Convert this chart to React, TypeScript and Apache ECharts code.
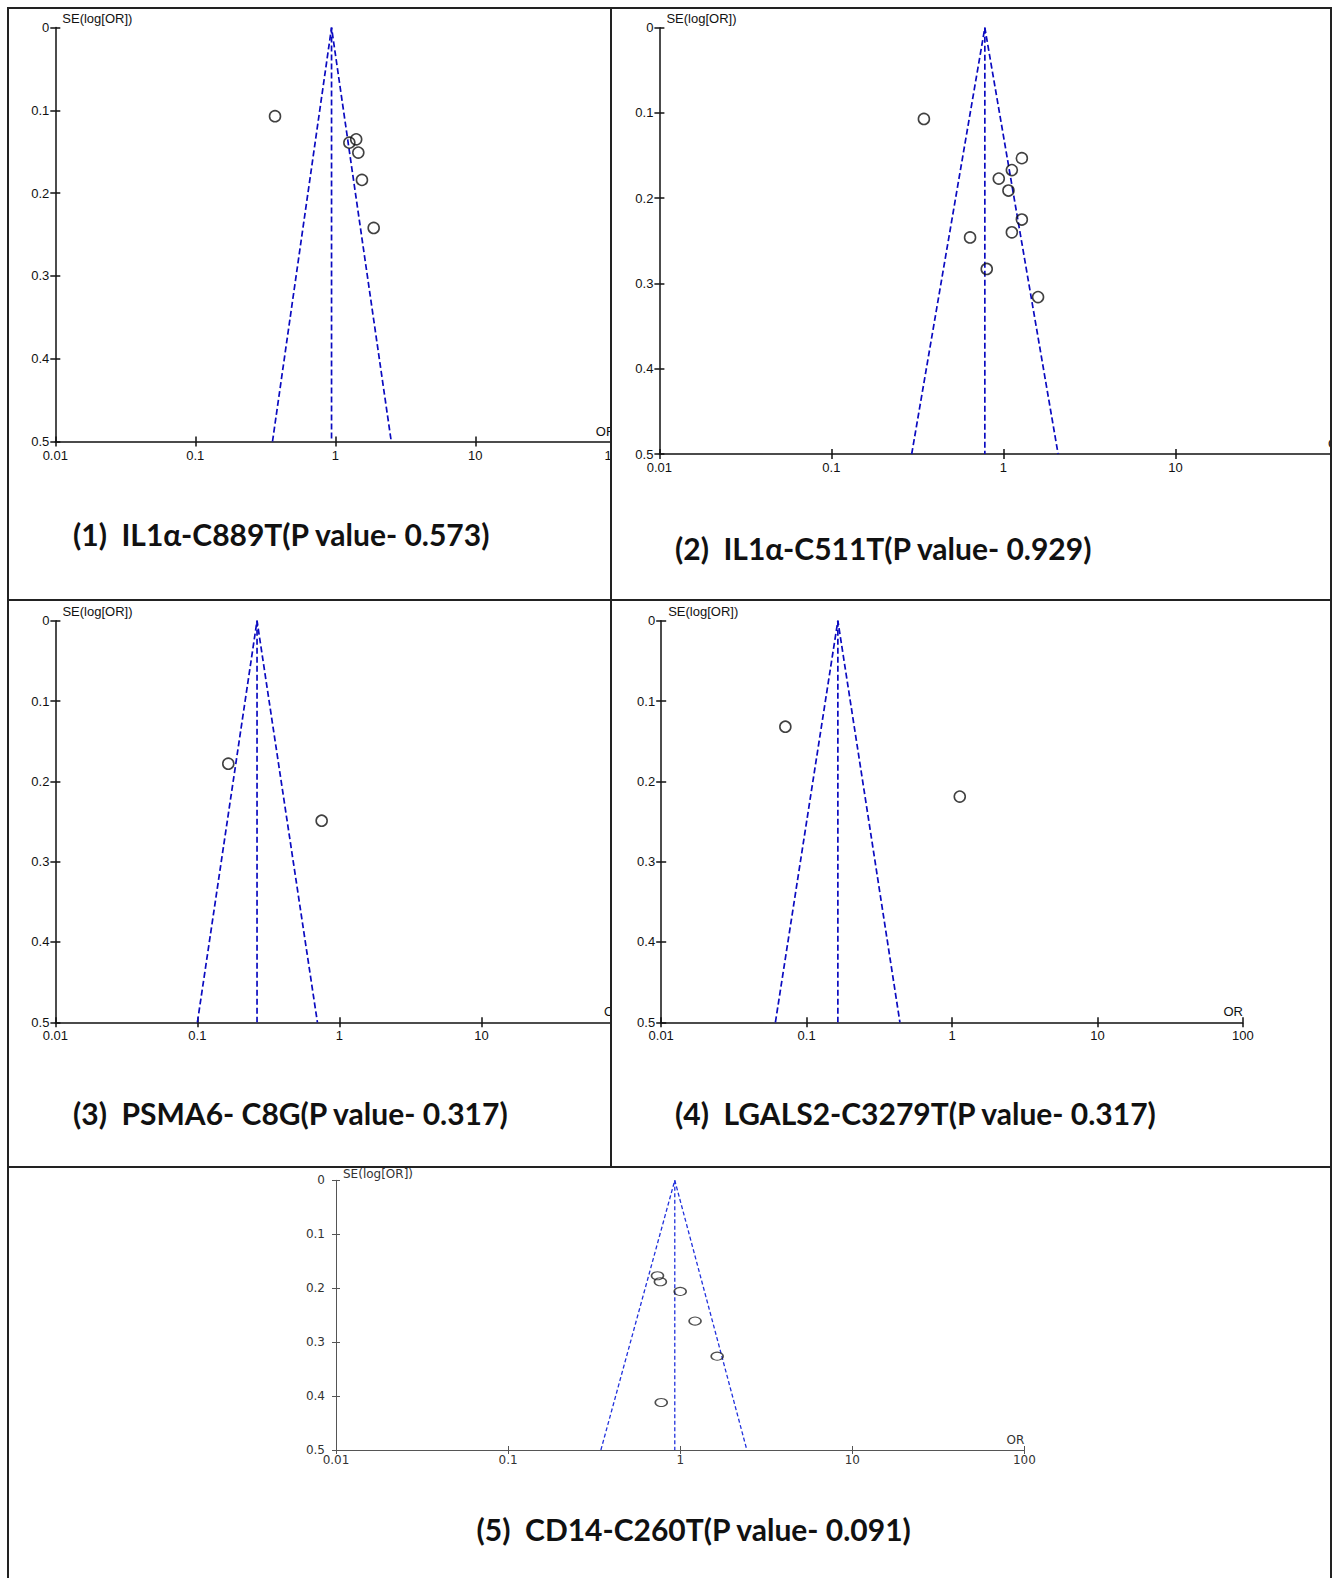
import React, { useEffect, useRef } from "react";
import * as echarts from "echarts";

// ---------- data ----------
const X_TICK_LABELS = ["0.01", "0.1", "1", "10", "100"];
const Y_TICK_LABELS = ["0", "0.1", "0.2", "0.3", "0.4", "0.5"];

const TITLES = [
  "(1)  IL1\u03b1-C889T(P value- 0.573)",
  "(2)  IL1\u03b1-C511T(P value- 0.929)",
  "(3)  PSMA6- C8G(P value- 0.317)",
  "(4)  LGALS2-C3279T(P value- 0.317)",
  "(5)  CD14-C260T(P value- 0.091)",
];

// funnel: [lower OR at SE=0.5, pooled OR, upper OR at SE=0.5]
const P1_OR = [0.371, 1.26, 1.41, 1.46, 1.55, 1.88];
const P1_SE = [0.107, 0.139, 0.135, 0.151, 0.184, 0.242];
const P1_FUNNEL = [0.356, 0.94, 2.51];

const P2_OR = [0.345, 1.28, 1.12, 0.94, 1.07, 1.28, 1.12, 0.64, 0.8, 1.59];
const P2_SE = [0.107, 0.153, 0.167, 0.177, 0.191, 0.225, 0.24, 0.246, 0.283, 0.316];
const P2_FUNNEL = [0.293, 0.78, 2.08];

const P3_OR = [0.165, 0.75];
const P3_SE = [0.178, 0.249];
const P3_FUNNEL = [0.1, 0.263, 0.7];

const P4_OR = [0.0714, 1.13];
const P4_SE = [0.132, 0.219];
const P4_FUNNEL = [0.061, 0.164, 0.438];

const P5_OR = [0.738, 0.767, 1.0, 1.22, 1.64, 0.776];
const P5_SE = [0.177, 0.188, 0.206, 0.261, 0.326, 0.412];
const P5_FUNNEL = [0.346, 0.93, 2.44];

const SE_MAX = 0.5;

// ---------- styles / layout ----------
const FONT_A = "'Liberation Sans',Arial,sans-serif";
const FONT_B = "'DejaVu Sans',sans-serif";
const TITLE_FONT = "Lato,'Open Sans','Noto Sans',sans-serif";

const STYLE_A = {
  axisColor: "#111",
  axisWidth: 1.5,
  tickLen: 5,
  font: FONT_A,
  fontSize: 13,
  labelColor: "#111",
  xLabelMargin: 7,
  yLabelMargin: 6,
  namePadLeft: 7,
  nameGap: 3,
  funnelColor: "#0a0ac0",
  funnelWidth: 1.7,
  dash: [6, 3],
  markerColor: "#111",
  markerWidth: 1.6,
  markerSize: [11, 11] as any,
};

const STYLE_B = {
  axisColor: "#555",
  axisWidth: 1,
  tickLen: 4,
  font: FONT_B,
  fontSize: 12,
  labelColor: "#333",
  xLabelMargin: 4,
  yLabelMargin: 11,
  namePadLeft: 7,
  nameGap: 0,
  funnelColor: "#2030dc",
  funnelWidth: 1.3,
  dash: [4, 2.5],
  markerColor: "#222",
  markerWidth: 1.3,
  markerSize: [12, 8] as any,
};

type PanelCfg = {
  box: { left: number; top: number; w: number; h: number };
  grid: { left: number; top: number; width: number; height: number };
  title: { text: string; x: number; y: number; align: string };
  or: number[];
  se: number[];
  funnel: number[];
  style: typeof STYLE_A;
};

const PANELS: PanelCfg[] = [
  {
    box: { left: 8, top: 8, w: 604, h: 592 },
    grid: { left: 47.3, top: 19.6, width: 560, height: 413.9 },
    title: { text: TITLES[0], x: 65, y: 526, align: "left" },
    or: P1_OR, se: P1_SE, funnel: P1_FUNNEL, style: STYLE_A,
  },
  {
    box: { left: 612, top: 8, w: 718, h: 592 },
    grid: { left: 47.4, top: 19.7, width: 688, height: 426.3 },
    title: { text: TITLES[1], x: 63, y: 539.5, align: "left" },
    or: P2_OR, se: P2_SE, funnel: P2_FUNNEL, style: STYLE_A,
  },
  {
    box: { left: 8, top: 600, w: 604, h: 567 },
    grid: { left: 47.4, top: 20.7, width: 568, height: 401.6 },
    title: { text: TITLES[2], x: 65, y: 513, align: "left" },
    or: P3_OR, se: P3_SE, funnel: P3_FUNNEL, style: STYLE_A,
  },
  {
    box: { left: 612, top: 600, w: 718, h: 567 },
    grid: { left: 49.2, top: 20.7, width: 581.7, height: 401.6 },
    title: { text: TITLES[3], x: 63, y: 513, align: "left" },
    or: P4_OR, se: P4_SE, funnel: P4_FUNNEL, style: STYLE_A,
  },
  {
    box: { left: 8, top: 1167, w: 1322, h: 411 },
    grid: { left: 328, top: 13.3, width: 688.4, height: 269.7 },
    title: { text: TITLES[4], x: 685.7, y: 361.7, align: "center" },
    or: P5_OR, se: P5_SE, funnel: P5_FUNNEL, style: STYLE_B,
  },
];

function buildOption(p: PanelCfg) {
  const s = p.style;
  const lineStyle = { color: s.axisColor, width: s.axisWidth };
  const xBase = {
    type: "log",
    logBase: 10,
    min: 0.01,
    max: 100,
    position: "bottom",
    splitLine: { show: false },
    minorTick: { show: false },
  };
  const yBase = {
    type: "value",
    min: 0,
    max: SE_MAX,
    interval: 0.1,
    inverse: true,
    position: "left",
    splitLine: { show: false },
  };
  const [lo, c, hi] = p.funnel;
  return {
    animation: false,
    grid: {
      left: p.grid.left,
      top: p.grid.top,
      width: p.grid.width,
      height: p.grid.height,
      containLabel: false,
      outerBoundsMode: "none",
    },
    graphic: [
      {
        type: "text",
        x: p.title.x,
        y: p.title.y,
        style: {
          text: p.title.text,
          fontFamily: TITLE_FONT,
          fontSize: 30,
          fontWeight: "bold",
          fill: "#111",
          align: p.title.align,
          verticalAlign: "middle",
        },
      },
    ],
    xAxis: [
      {
        ...xBase,
        axisLine: { show: true, onZero: false, lineStyle },
        axisTick: { show: true, inside: false, length: s.tickLen, lineStyle },
        axisLabel: {
          show: true,
          margin: s.xLabelMargin,
          fontFamily: s.font,
          fontSize: s.fontSize,
          color: s.labelColor,
          formatter: (v: number) => X_TICK_LABELS[Math.round(Math.log10(v)) + 2],
        },
        name: "OR",
        nameLocation: "end",
        nameGap: 0,
        nameMoveOverlap: false,
        nameTextStyle: {
          fontFamily: s.font,
          fontSize: s.fontSize,
          color: s.labelColor,
          align: "right",
          verticalAlign: "bottom",
          padding: [0, 0, 4, 0],
        },
      },
      {
        ...xBase,
        axisLine: { show: false, onZero: false },
        axisTick: { show: true, inside: true, length: s.tickLen, lineStyle },
        axisLabel: { show: false },
      },
    ],
    yAxis: [
      {
        ...yBase,
        axisLine: { show: true, onZero: false, lineStyle },
        axisTick: { show: true, inside: false, length: s.tickLen, lineStyle },
        axisLabel: {
          show: true,
          margin: s.yLabelMargin,
          fontFamily: s.font,
          fontSize: s.fontSize,
          color: s.labelColor,
          formatter: (v: number) => Y_TICK_LABELS[Math.round(v * 10)],
        },
        name: "SE(log[OR])",
        nameLocation: "start",
        nameGap: s.nameGap,
        nameMoveOverlap: false,
        nameTextStyle: {
          fontFamily: s.font,
          fontSize: s.fontSize,
          color: s.labelColor,
          align: "left",
          verticalAlign: "bottom",
          padding: [0, 0, 0, s.namePadLeft],
        },
      },
      {
        ...yBase,
        axisLine: { show: false, onZero: false },
        axisTick: { show: true, inside: true, length: s.tickLen, lineStyle },
        axisLabel: { show: false },
      },
    ],
    series: [
      {
        type: "line",
        xAxisIndex: 0,
        yAxisIndex: 0,
        data: [
          [lo, SE_MAX],
          [c, 0],
          [hi, SE_MAX],
        ],
        symbol: "none",
        silent: true,
        lineStyle: { color: s.funnelColor, width: s.funnelWidth, type: s.dash },
        z: 2,
      },
      {
        type: "line",
        xAxisIndex: 0,
        yAxisIndex: 0,
        data: [
          [c, 0],
          [c, SE_MAX],
        ],
        symbol: "none",
        silent: true,
        lineStyle: { color: s.funnelColor, width: s.funnelWidth, type: s.dash },
        z: 2,
      },
      {
        type: "scatter",
        xAxisIndex: 0,
        yAxisIndex: 0,
        data: p.or.map((v, i) => [v, p.se[i]]),
        symbol: "circle",
        symbolSize: s.markerSize,
        silent: true,
        itemStyle: {
          color: "rgba(0,0,0,0)",
          borderColor: s.markerColor,
          borderWidth: s.markerWidth,
        },
        z: 3,
      },
    ],
  };
}

function Panel({ cfg }: { cfg: PanelCfg }) {
  const ref = useRef<HTMLDivElement | null>(null);
  useEffect(() => {
    if (!ref.current) return;
    const chart = echarts.init(ref.current, null, { renderer: "svg" });
    chart.setOption(buildOption(cfg) as any);
    return () => chart.dispose();
  }, [cfg]);
  const b = cfg.box;
  return (
    <div
      style={{
        position: "absolute",
        left: b.left,
        top: b.top,
        width: b.w,
        height: b.h,
        overflow: "hidden",
      }}
    >
      <div ref={ref} style={{ width: b.w, height: b.h }} />
    </div>
  );
}

const BORDER = "#222";
const LINES = [
  { left: 7, top: 6.5, width: 1324.5, height: 2 },
  { left: 7, top: 6.5, width: 2, height: 1571.5 },
  { left: 1329.5, top: 6.5, width: 2, height: 1571.5 },
  { left: 610, top: 6.5, width: 2, height: 1160 },
  { left: 7, top: 599, width: 1324.5, height: 2 },
  { left: 7, top: 1165.5, width: 1324.5, height: 2 },
];

export default function App() {
  return (
    <div
      style={{
        position: "absolute",
        left: 0,
        top: 0,
        width: 1333,
        height: 1578,
        background: "#fff",
        overflow: "hidden",
      }}
    >
      {PANELS.map((p, i) => (
        <Panel key={i} cfg={p} />
      ))}
      {LINES.map((l, i) => (
        <div
          key={"l" + i}
          style={{
            position: "absolute",
            left: l.left,
            top: l.top,
            width: l.width,
            height: l.height,
            background: BORDER,
            zIndex: 5,
          }}
        />
      ))}
    </div>
  );
}
